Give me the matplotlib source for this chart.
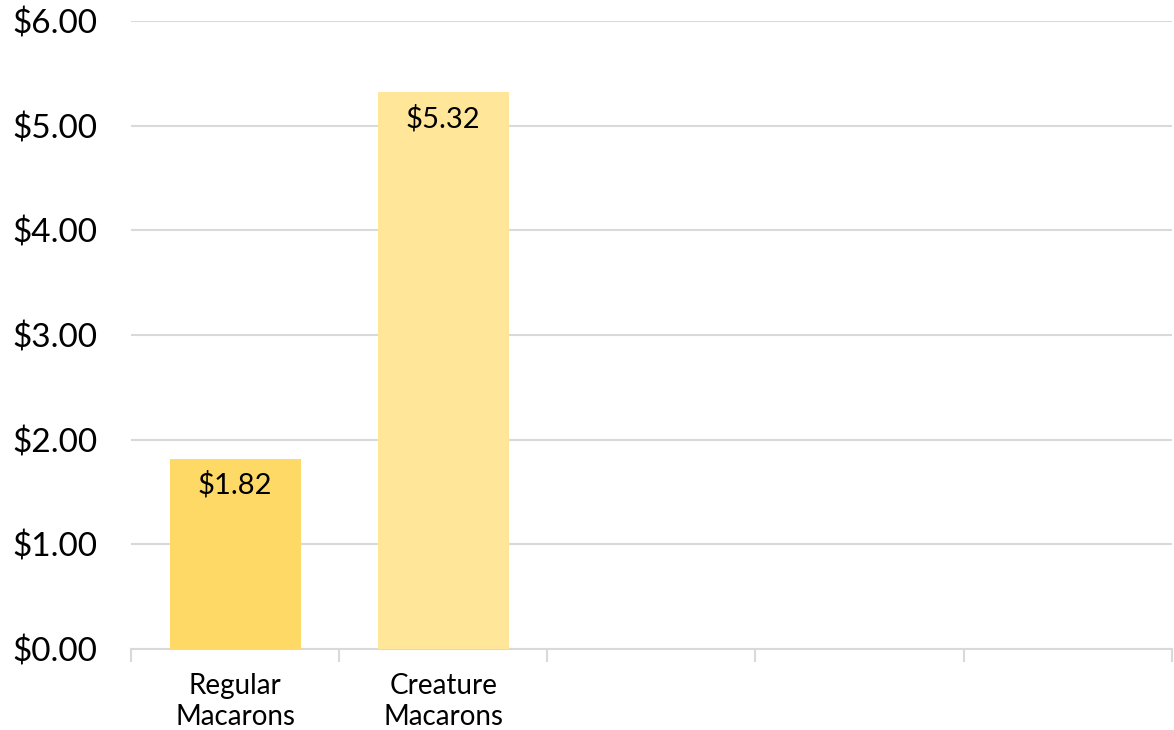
import matplotlib
matplotlib.use("Agg")
import matplotlib.pyplot as plt
import numpy as np

categories = ["Regular\nMacarons", "Creature\nMacarons", "", "", ""]
values = [1.82, 5.32]
bar_colors = ["#FFD966", "#FFE699"]
yticks = [0, 1, 2, 3, 4, 5, 6]

plt.rcParams['font.family'] = ['Lato', 'DejaVu Sans']

fig = plt.figure(figsize=(11.74, 7.30), dpi=100)
ax = fig.add_axes([0.1116, 0.111, 0.8864, 0.860])

x = np.arange(len(values))
bars = ax.bar(x, values, width=0.63, color=bar_colors, zorder=3)

for xi, v in zip(x, values):
    ax.annotate(f"${v:.2f}", (xi, v), xytext=(0, -9), textcoords="offset points",
                ha="center", va="top", fontsize=21, color="#000000", zorder=4)

ax.set_xlim(-0.5, len(categories) - 0.5)
ax.set_ylim(0, 6)
ax.set_yticks(yticks)
ax.set_yticklabels([f"${t:.2f}" for t in yticks], fontsize=24)
ax.tick_params(axis='y', length=0, pad=24)
ax.yaxis.grid(True, color="#D9D9D9", linewidth=1.5, zorder=0)

ax.set_xticks(np.arange(len(categories)))
ax.set_xticklabels(categories, fontsize=20, linespacing=1.25)
ax.set_xticks(np.arange(len(categories) + 1) - 0.5, minor=True)
ax.tick_params(axis='x', which='major', length=0, pad=17)
ax.tick_params(axis='x', which='minor', length=9, width=1.5, color="#D9D9D9")

for s in ['top', 'right', 'left']:
    ax.spines[s].set_visible(False)
ax.spines['bottom'].set_color("#D9D9D9")
ax.spines['bottom'].set_linewidth(1.5)

fig.savefig("out.png", dpi=100)
